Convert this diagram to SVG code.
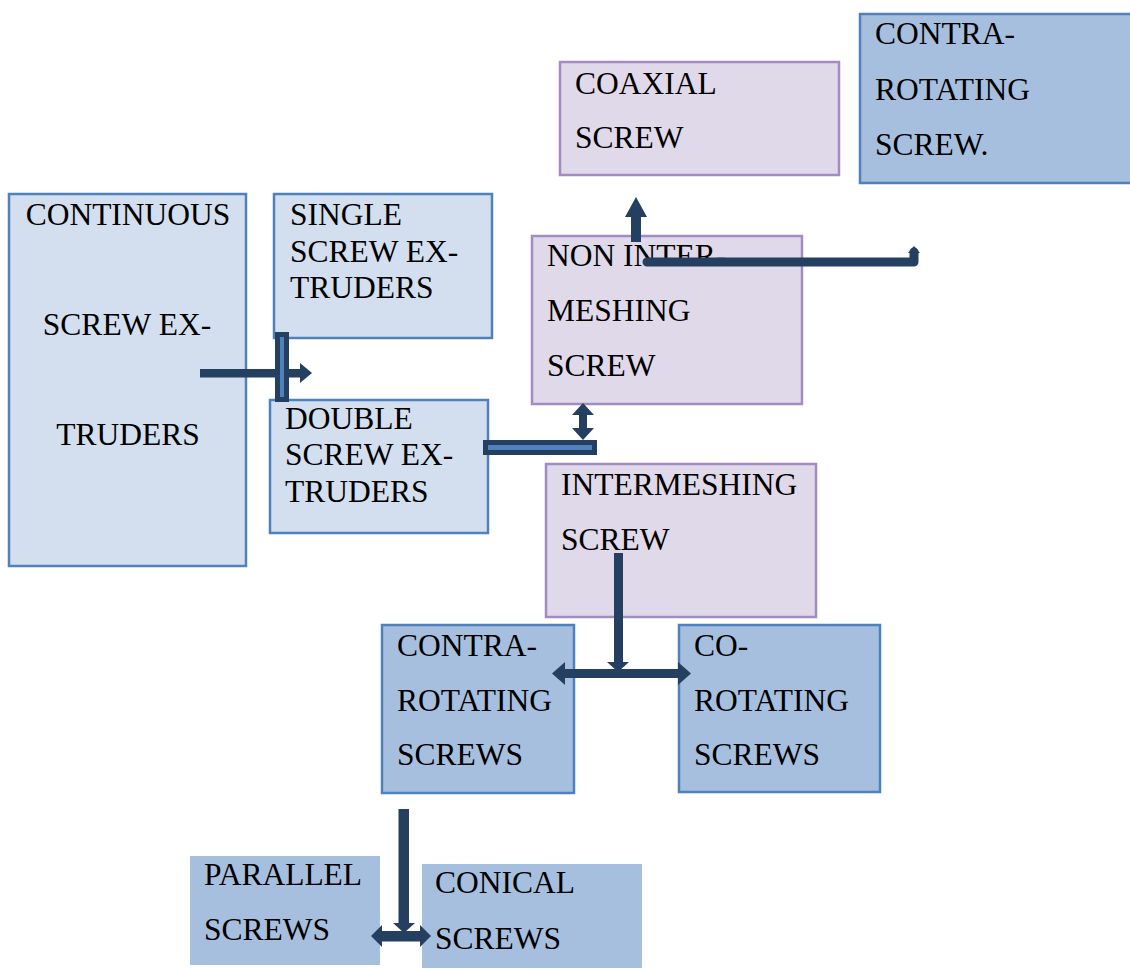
<svg xmlns="http://www.w3.org/2000/svg" width="1130" height="969" viewBox="0 0 1130 969">
<style>
text{font-family:"Liberation Serif","Times New Roman",serif;font-size:31.5px;fill:#000}
.lb{fill:#d3dfee;stroke:#4f81bd;stroke-width:2.5}
.mb{fill:#a7bfde;stroke:#4f81bd;stroke-width:2.5}
.pb{fill:#dfd9e9;stroke:#a28cc1;stroke-width:2.5}
.nb{fill:#a7bfde;stroke:none}
.ar{fill:#243f60;stroke:none}
.bar{fill:#4f81bd;stroke:#243f60;stroke-width:5}
.c{text-anchor:middle}
</style>
<rect width="1130" height="969" fill="#fff"/>
<g id="continuous"><rect class="lb" x="9" y="194" width="237" height="372"/>
<text class="c" x="128" y="225">CONTINUOUS</text><text class="c" x="127" y="335">SCREW EX-</text><text class="c" x="128" y="445">TRUDERS</text></g>
<g id="single"><rect class="lb" x="274" y="194" width="218" height="144"/>
<text x="290" y="225">SINGLE</text><text x="290" y="262">SCREW EX-</text><text x="290" y="298">TRUDERS</text></g>
<g id="double"><rect class="lb" x="270" y="400" width="218" height="133"/>
<text x="285" y="429">DOUBLE</text><text x="285" y="465">SCREW EX-</text><text x="285" y="502">TRUDERS</text></g>
<g id="noninter"><rect class="pb" x="532" y="236" width="270" height="168"/>
<text x="547" y="266">NON INTER-</text><text x="547" y="321">MESHING</text><text x="547" y="376">SCREW</text></g>
<g id="coaxial"><rect class="pb" x="560" y="62" width="279" height="113"/>
<text x="575" y="94">COAXIAL</text><text x="575" y="148">SCREW</text></g>
<g id="contra-top"><rect class="mb" x="860" y="14" width="274" height="169"/>
<text x="875" y="44">CONTRA-</text><text x="875" y="100">ROTATING</text><text x="875" y="155">SCREW.</text></g>
<g id="intermeshing"><rect class="pb" x="546" y="464" width="270" height="153"/>
<text x="561" y="495">INTERMESHING</text><text x="561" y="550">SCREW</text></g>
<g id="contra"><rect class="mb" x="382" y="625" width="192" height="168"/>
<text x="397" y="656">CONTRA-</text><text x="397" y="711">ROTATING</text><text x="397" y="765">SCREWS</text></g>
<g id="co"><rect class="mb" x="679" y="625" width="201" height="167"/>
<text x="694" y="656">CO-</text><text x="694" y="711">ROTATING</text><text x="694" y="765">SCREWS</text></g>
<g id="parallel"><rect class="nb" x="190" y="856" width="190" height="109"/>
<text x="204" y="885">PARALLEL</text><text x="204" y="940">SCREWS</text></g>
<g id="conical"><rect class="nb" x="422" y="864" width="220" height="104"/>
<text x="435" y="893">CONICAL</text><text x="435" y="949">SCREWS</text></g>
<g id="connectors">
<rect class="ar" x="200" y="369" width="102" height="8.5"/>
<polygon class="ar" points="300,363 312,373 300,383"/>
<rect class="bar" x="277.5" y="334.5" width="9" height="65"/>
<rect class="bar" x="485.5" y="442.5" width="109" height="10"/>
<polygon class="ar" points="583,403 594,415 587,415 587,428 594,428 583,440 572,428 579,428 579,415 572,415"/>
<polygon class="ar" points="636,197 647,217 641,217 641,242 631,242 631,217 625,217"/>
<path d="M647,262 H914 V252" fill="none" stroke="#243f60" stroke-width="9" stroke-linecap="round" stroke-linejoin="round"/>
<polygon class="ar" points="908,253 914,246 920,253" stroke="#243f60" stroke-width="3" stroke-linejoin="round"/>
<rect class="ar" x="614" y="553" width="9" height="111"/>
<polygon class="ar" points="607,662 629,662 618,672"/>
<rect class="ar" x="563" y="669" width="117" height="9"/>
<polygon class="ar" points="552,673.5 565,662 565,685"/>
<polygon class="ar" points="691,673.5 678,662 678,685"/>
<rect class="ar" x="398.5" y="809" width="10.5" height="116"/>
<polygon class="ar" points="393,923 415,923 404,933"/>
<rect class="ar" x="380" y="931" width="42" height="10.5"/>
<polygon class="ar" points="371,936 382,925 382,947"/>
<polygon class="ar" points="431,936 420,925 420,947"/>
</g>
</svg>
